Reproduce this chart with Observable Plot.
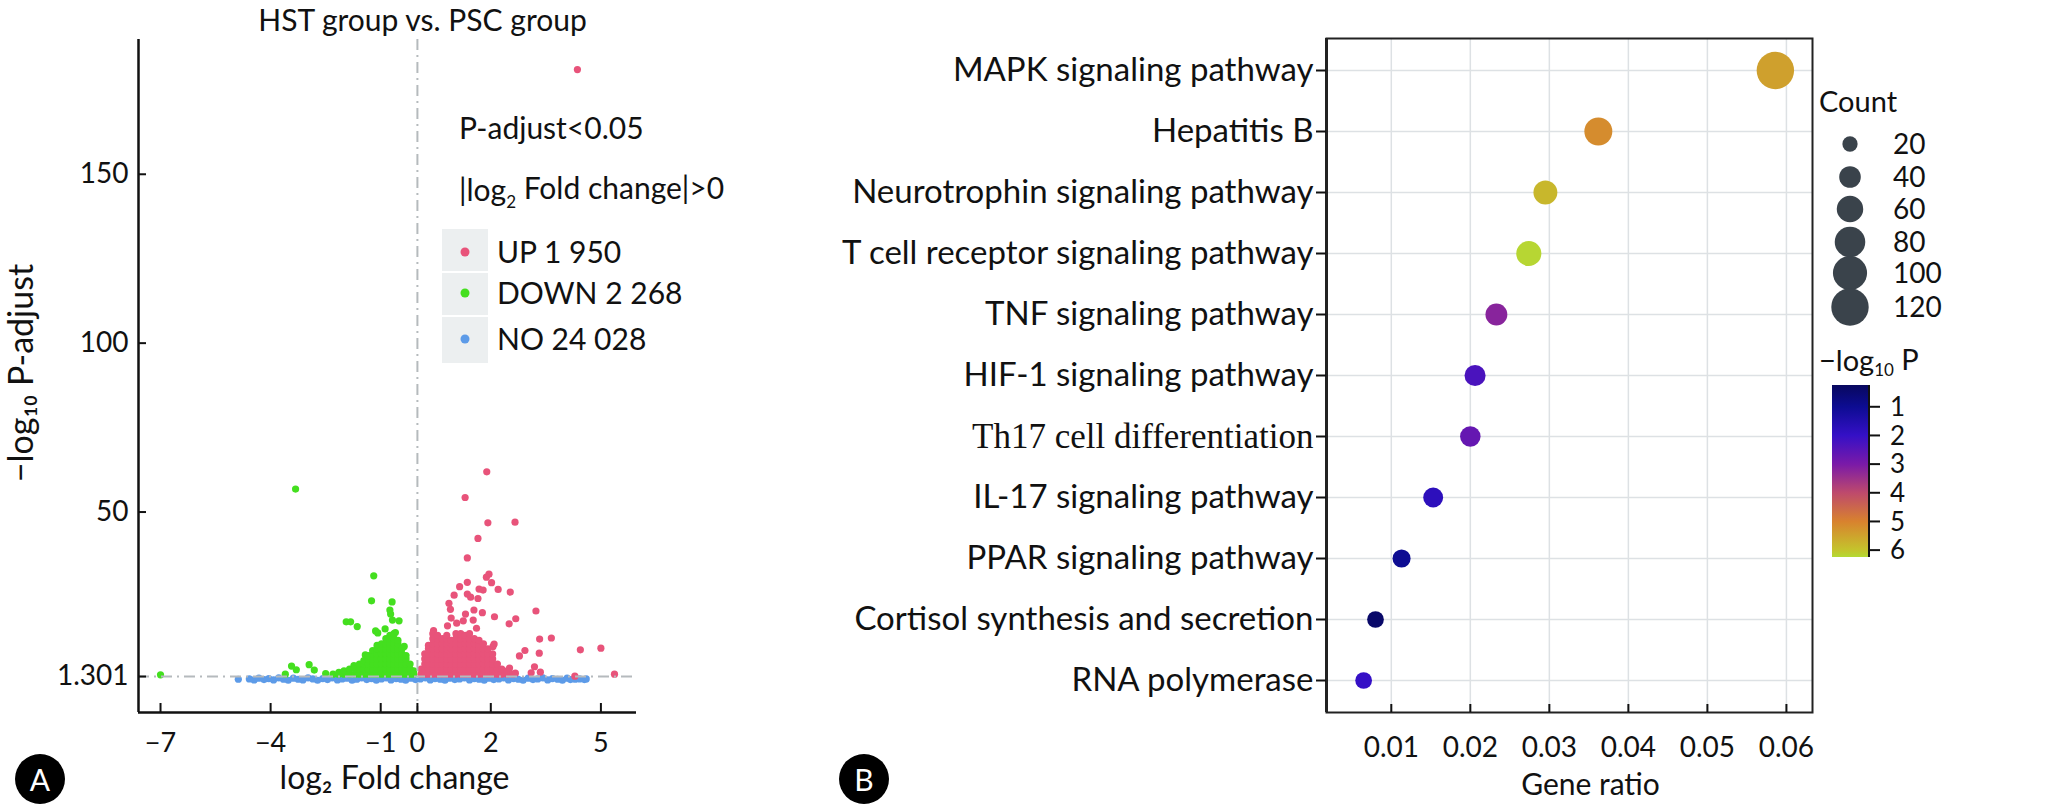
<!DOCTYPE html>
<html><head><meta charset="utf-8">
<script src="https://cdn.jsdelivr.net/npm/d3@7"></script>
<script src="https://cdn.jsdelivr.net/npm/@observablehq/plot@0.6"></script>
<style>
html,body{margin:0;padding:0;background:#fff;}
#wrap{position:relative;width:2048px;height:809px;overflow:hidden;font-family:Lato,sans-serif;}
#wrap svg{position:absolute;top:0;overflow:visible;}
.badge{position:absolute;width:50px;height:50px;border-radius:50%;background:#000;color:#fff;font:30px Lato,sans-serif;display:flex;align-items:center;justify-content:center;}
</style></head><body><div id="wrap"></div>
<script>
// ---------- Panel A data (volcano) ----------
const volcanoTitle = "HST group vs. PSC group";
const thresholdText = ["P-adjust<0.05", "|log₂ Fold change|>0"];
const groupLabels = ["UP 1 950", "DOWN 2 268", "NO 24 028"];
const xTicksA = [-7, -4, -1, 0, 2, 5];
const yTicksA = [1.301, 50, 100, 150];
const pCut = 1.301;
const fcCut = 0;

const upPoints = [
  [4.36,181],[1.89,61.9],[1.30,54.3],[1.92,46.8],[2.66,47.0],[1.65,42.2],[1.36,36.4],[1.95,31.6],[1.88,30.7],
  [2.02,29.1],[1.15,27.9],[1.36,29.2],[2.2,27.1],[2.53,26.3],[1.68,27.2],[1.79,26.9],[1.0,25.4],[1.36,25.7],
  [1.45,24.8],[1.65,24.4],[0.86,23.0],[0.9,21.2],[1.54,21.0],[1.77,20.2],[1.31,19.8],[2.1,19.0],[3.23,20.7],
  [0.92,18.6],[1.07,17.1],[1.25,17.8],[2.68,18.4],[2.5,16.9],[0.82,16.3],[1.52,18.0],[1.61,15.6],[0.44,14.9],
  [3.33,12.4],[3.65,12.7],[2.09,10.9],[2.06,10.2],[4.44,9.2],[5.0,9.7],[2.93,9.0],[2.78,7.4],[3.32,8.2],
  [3.19,4.2],[3.35,2.6],[3.1,2.4],[2.51,3.8],[2.67,2.3],[5.37,2.0],[4.29,1.4],
  [0.1,2],[0.1,3.5],
  [0.2,2],[0.2,3.5],[0.2,5],[0.2,6.5],[0.2,8],
  [0.3,2],[0.3,3.5],[0.3,5],[0.3,6.5],[0.3,8],[0.3,9.5],[0.3,10.5],
  [0.42,2],[0.42,3.5],[0.42,5],[0.42,6.5],[0.42,8],[0.42,9.5],[0.42,11],[0.42,12.5],[0.42,14],
  [0.55,2],[0.55,3.5],[0.55,5],[0.55,6.5],[0.55,8],[0.55,9.5],[0.55,11],[0.55,12.5],[0.55,13.5],
  [0.68,2],[0.68,3.5],[0.68,5],[0.68,6.5],[0.68,8],[0.68,9.5],[0.68,11],[0.68,12.5],
  [0.8,2],[0.8,3.5],[0.8,5],[0.8,6.5],[0.8,8],[0.8,9.5],[0.8,11],[0.8,12.5],[0.8,13.5],
  [0.92,2],[0.92,3.5],[0.92,5],[0.92,6.5],[0.92,8],[0.92,9.5],[0.92,11],[0.92,12],
  [1.05,2],[1.05,3.5],[1.05,5],[1.05,6.5],[1.05,8],[1.05,9.5],[1.05,11],[1.05,12.5],[1.05,14],
  [1.18,2],[1.18,3.5],[1.18,5],[1.18,6.5],[1.18,8],[1.18,9.5],[1.18,11],[1.18,12.5],[1.18,14],
  [1.3,2],[1.3,3.5],[1.3,5],[1.3,6.5],[1.3,8],[1.3,9.5],[1.3,11],[1.3,12.5],[1.3,13.5],
  [1.42,2],[1.42,3.5],[1.42,5],[1.42,6.5],[1.42,8],[1.42,9.5],[1.42,11],[1.42,12.5],[1.42,14],
  [1.55,2],[1.55,3.5],[1.55,5],[1.55,6.5],[1.55,8],[1.55,9.5],[1.55,11],[1.55,12.5],
  [1.68,2],[1.68,3.5],[1.68,5],[1.68,6.5],[1.68,8],[1.68,9.5],[1.68,11],[1.68,12],
  [1.8,2],[1.8,3.5],[1.8,5],[1.8,6.5],[1.8,8],[1.8,9.5],[1.8,11],
  [1.92,2],[1.92,3.5],[1.92,5],[1.92,6.5],[1.92,8],[1.92,9.5],
  [2.05,2],[2.05,3.5],[2.05,5],[2.05,6.5],[2.05,8],
  [2.18,2],[2.18,3.5],[2.18,5],
  [2.3,2],[2.3,3.5],
  [2.45,2],[2.45,3],
  [2.6,2]
];

const downPoints = [
  [-7.0,1.8],[-3.32,56.8],[-1.19,31.1],[-1.25,23.7],[-0.69,23.4],[-0.73,19.8],[-0.75,21],[-1.94,17.5],
  [-1.82,17.5],[-1.64,16.1],[-0.68,18],[-0.5,17.8],[-1.14,14.8],[-0.88,15.4],[-1.08,14.2],[-0.6,14.3],
  [-3.43,4.4],[-3.3,3.3],[-2.95,4.8],[-2.81,3.2],[-2.14,2.5],[-1.87,2.8],[-1.73,4.5],[-1.42,7.7],
  [-1.38,6.5],[-1.19,8.7],[-0.36,10.2],[-0.33,7.2],[-3.6,2.0],[-2.5,2.2],
  [-2.3,2],[-2.15,2],
  [-2.0,2],[-2.0,3],
  [-1.85,2],[-1.85,3.5],
  [-1.7,2],[-1.7,3.5],
  [-1.58,2],[-1.58,3.5],[-1.58,5],
  [-1.46,2],[-1.46,3.5],[-1.46,5],[-1.46,6],
  [-1.34,2],[-1.34,3.5],[-1.34,5],[-1.34,6.5],[-1.34,7.5],
  [-1.22,2],[-1.22,3.5],[-1.22,5],[-1.22,6.5],[-1.22,8],[-1.22,9],
  [-1.1,2],[-1.1,3.5],[-1.1,5],[-1.1,6.5],[-1.1,8],[-1.1,9.5],[-1.1,10.5],
  [-0.98,2],[-0.98,3.5],[-0.98,5],[-0.98,6.5],[-0.98,8],[-0.98,9.5],[-0.98,11],
  [-0.86,2],[-0.86,3.5],[-0.86,5],[-0.86,6.5],[-0.86,8],[-0.86,9.5],[-0.86,11],[-0.86,12.5],
  [-0.75,2],[-0.75,3.5],[-0.75,5],[-0.75,6.5],[-0.75,8],[-0.75,9.5],[-0.75,11],[-0.75,12.5],[-0.75,13.5],
  [-0.64,2],[-0.64,3.5],[-0.64,5],[-0.64,6.5],[-0.64,8],[-0.64,9.5],[-0.64,11],[-0.64,12.5],[-0.64,14],
  [-0.53,2],[-0.53,3.5],[-0.53,5],[-0.53,6.5],[-0.53,8],[-0.53,9.5],[-0.53,11],[-0.53,12],
  [-0.42,2],[-0.42,3.5],[-0.42,5],[-0.42,6.5],[-0.42,8],[-0.42,9.5],
  [-0.31,2],[-0.31,3.5],[-0.31,5],[-0.31,6.5],[-0.31,7.5],
  [-0.2,2],[-0.2,3.5],[-0.2,5],
  [-0.1,2],[-0.1,3]
];

const noPoints = [
  [-4.88,0.5],[-4.58,0.6],[-4.45,0.3],[-4.32,0.8],[-4.18,0.4],[-4.05,0.7],[-3.92,0.3],[-3.78,0.9],[-3.65,0.5],
  [-3.52,0.2],[-3.38,0.8],[-3.25,0.5],[-3.12,0.3],[-2.98,0.9],[-2.85,0.6],[-2.72,0.2],[-2.58,0.7],[-2.45,0.4],
  [-2.32,0.9],[-2.18,0.3],[-2.05,0.6],[-1.92,0.8],[-1.78,0.2],[-1.65,0.5],[-1.52,0.9],[-1.38,0.4],[-1.25,0.7],
  [-1.12,0.2],[-0.98,0.6],[-0.85,0.9],[-0.72,0.3],[-0.58,0.7],[-0.45,0.5],[-0.32,0.2],[-0.18,0.8],[-0.05,0.4],
  [0.08,0.6],[0.22,0.9],[0.35,0.3],[0.48,0.7],[0.62,0.5],[0.75,0.2],[0.88,0.8],[1.02,0.4],[1.15,0.6],
  [1.28,0.9],[1.42,0.3],[1.55,0.7],[1.68,0.5],[1.82,0.2],[1.95,0.8],[2.08,0.4],[2.22,0.6],[2.35,0.9],
  [2.48,0.3],[2.62,0.7],[2.75,0.5],[2.88,0.2],[3.02,0.8],[3.15,0.4],[3.28,0.6],[3.42,0.9],[3.55,0.3],
  [3.68,0.7],[3.82,0.5],[3.95,0.2],[4.08,0.8],[4.17,0.4],[4.3,0.5],[4.42,0.6],[4.55,0.4],[4.6,0.6]
];

// ---------- Panel B data (KEGG bubble) ----------
const pathways = [
  "MAPK signaling pathway","Hepatitis B","Neurotrophin signaling pathway","T cell receptor signaling pathway",
  "TNF signaling pathway","HIF-1 signaling pathway","Th17 cell differentiation","IL-17 signaling pathway",
  "PPAR signaling pathway","Cortisol synthesis and secretion","RNA polymerase"
];
const geneRatio = [0.0586, 0.0362, 0.0295, 0.0274, 0.0233, 0.0206, 0.0200, 0.0153, 0.0113, 0.0080, 0.0065];
const geneCount = [120, 67, 49, 54, 41, 38, 36, 34, 28, 24, 24];
const negLogP   = [5.45, 5.15, 5.8, 6.2, 3.2, 2.3, 2.7, 1.8, 1.0, 0.4, 2.0];
const ratioTicks = [0.01, 0.02, 0.03, 0.04, 0.05, 0.06];
const countLegend = [20, 40, 60, 80, 100, 120];
const logPTicks = [1, 2, 3, 4, 5, 6];

// ---------- styles ----------
const colUp = "#e8537a", colDown = "#44df1f", colNo = "#5d9be8";
const FONT = "Lato, sans-serif";
const wrap = document.getElementById("wrap");
const minus = d => d < 0 ? "\u2212" + Math.abs(d) : String(d);

// ---------- Panel A ----------
const xDomA = [-7.6, 5.97], yDomA = [-9.35, 189.9];
const dash = {stroke: "#b5babd", strokeWidth: 2, strokeDasharray: "11,5,2,5"};
const axisLine = {stroke: "#111", strokeWidth: 2.5};
const plotA = Plot.plot({
  width: 700, height: 809, marginLeft: 138, marginRight: 64, marginTop: 39, marginBottom: 97,
  style: {fontFamily: FONT, color: "#111", background: "transparent", overflow: "visible"},
  x: {domain: xDomA},
  y: {domain: yDomA},
  marks: [
    Plot.dot(noPoints, {x: d => d[0], y: d => d[1], r: 3.6, fill: colNo}),
    Plot.dot(downPoints, {x: d => d[0], y: d => d[1], r: 3.6, fill: colDown}),
    Plot.dot(upPoints, {x: d => d[0], y: d => d[1], r: 3.6, fill: colUp}),
    Plot.ruleY([pCut], dash),
    Plot.ruleX([fcCut], dash),
    Plot.ruleX([xDomA[0]], axisLine),
    Plot.ruleY([yDomA[0]], axisLine),
    Plot.axisX({ticks: xTicksA, tickFormat: minus, tickSize: -9, tickPadding: 29, fontSize: 27, strokeWidth: 2, label: null}),
    Plot.axisY({ticks: yTicksA, tickFormat: d => String(d), tickSize: -8, tickPadding: 18, fontSize: 28, strokeWidth: 2, label: null}),
    Plot.text([volcanoTitle], {frameAnchor: "top", lineAnchor: "middle", textAnchor: "middle", dx: 35, dy: -18, fontSize: 30}),
    Plot.text(["log₂ Fold change"], {frameAnchor: "bottom", lineAnchor: "middle", textAnchor: "middle", dx: 7, dy: 66, fontSize: 32}),
    Plot.text(["\u2212log₁₀ P-adjust"], {frameAnchor: "left", lineAnchor: "middle", textAnchor: "middle", rotate: -90, dx: -116, dy: -3, fontSize: 34})
  ]
});
plotA.style.left = "0px";
wrap.appendChild(plotA);

// legend for panel A
{
  const g = d3.select(plotA).append("g").attr("font-family", FONT).attr("fill", "#111").attr("text-anchor", "start");
  g.append("text").attr("x", 459).attr("y", 128).attr("dy", "0.35em").attr("font-size", 30).text(thresholdText[0]);
  const t = g.append("text").attr("x", 459).attr("y", 190).attr("dy", "0.35em").attr("font-size", 30);
  t.append("tspan").text("|log");
  t.append("tspan").attr("font-size", 17).attr("dy", "0.45em").text("2");
  t.append("tspan").attr("dy", "-0.3em").text(" Fold change|>0");
  g.append("rect").attr("x", 442).attr("y", 229).attr("width", 46).attr("height", 134).attr("fill", "#eceff0");
  [272, 316].forEach(y => g.append("line").attr("x1", 442).attr("x2", 488).attr("y1", y).attr("y2", y).attr("stroke", "#fff").attr("stroke-width", 2));
  const rowsY = [252, 293, 339], cols = [colUp, colDown, colNo];
  groupLabels.forEach((lab, i) => {
    g.append("circle").attr("cx", 465).attr("cy", rowsY[i]).attr("r", 4.5).attr("fill", cols[i]);
    g.append("text").attr("x", 497).attr("y", rowsY[i]).attr("dy", "0.35em").attr("font-size", 30).text(lab);
  });
}

// ---------- Panel B ----------
const th17 = "Th17 cell differentiation";
const pathwayData = pathways.map((p, i) => ({pathway: p, ratio: geneRatio[i], count: geneCount[i], logp: negLogP[i]}));
const colorDomain = [0.24, 1, 2, 3, 4, 5, 6, 6.24];
const colorRange = ["#08085e", "#0d0c92", "#3510c6", "#7a1aa8", "#be4a6c", "#d8822e", "#c4c42c", "#b4da34"];
const xDomB = [0.0018, 0.0633];
const grid = {stroke: "#dde1e4", strokeOpacity: 1, strokeWidth: 1.5};
const plotB = Plot.plot({
  width: 1348, height: 809, marginLeft: 626, marginRight: 236, marginTop: 38, marginBottom: 97,
  style: {fontFamily: FONT, color: "#111", background: "transparent", overflow: "visible"},
  x: {domain: xDomB},
  y: {type: "point", domain: pathways, padding: 0.5},
  r: {type: "sqrt", domain: [0, 120], range: [0, 18.7]},
  color: {type: "linear", domain: colorDomain, range: colorRange},
  marks: [
    Plot.gridX(ratioTicks, grid),
    Plot.gridY(pathways, grid),
    Plot.frame({stroke: "#222", strokeWidth: 2}),
    Plot.ruleX([xDomB[0]], {stroke: "#222", strokeWidth: 3}),
    Plot.dot(pathwayData, {x: "ratio", y: "pathway", r: "count", fill: "logp"}),
    Plot.axisX({ticks: ratioTicks, tickFormat: d => d.toFixed(2), tickSize: -8, tickPadding: 33, fontSize: 28, strokeWidth: 2, label: null}),
    Plot.axisY({ticks: pathways.filter(p => p !== th17), tickSize: 10, tickPadding: 3, fontSize: 33, strokeWidth: 2, label: null}),
    Plot.axisY({ticks: [th17], tickSize: 10, tickPadding: 3, fontSize: 35, fontFamily: "Liberation Serif, serif", strokeWidth: 2, label: null}),
    Plot.text(["Gene ratio"], {frameAnchor: "bottom", lineAnchor: "middle", textAnchor: "middle", dx: 21, dy: 73, fontSize: 30})
  ]
});
plotB.style.left = "700px";
wrap.appendChild(plotB);

// legends for panel B (drawn from the plot's own r and color scales)
{
  const rS = plotB.scale("r"), cS = plotB.scale("color");
  const g = d3.select(plotB).append("g").attr("font-family", FONT).attr("fill", "#111").attr("text-anchor", "start");
  const ox = -700;
  g.append("text").attr("x", 1819 + ox).attr("y", 102).attr("dy", "0.35em").attr("font-size", 29).text("Count");
  const rowY = [144, 177, 209, 242, 273, 307];
  countLegend.forEach((c, i) => {
    g.append("circle").attr("cx", 1850 + ox).attr("cy", rowY[i]).attr("r", rS.apply(c)).attr("fill", "#3a434b");
    g.append("text").attr("x", 1893 + ox).attr("y", rowY[i]).attr("dy", "0.35em").attr("font-size", 28).text(c);
  });
  const tt = g.append("text").attr("x", 1819 + ox).attr("y", 361).attr("dy", "0.35em").attr("font-size", 29);
  tt.append("tspan").text("\u2212log");
  tt.append("tspan").attr("font-size", 17).attr("dy", "0.3em").text("10");
  tt.append("tspan").attr("dy", "-0.2em").text(" P");
  const top = 385, bot = 557, bx = 1832 + ox, bw = 37;
  const yb = d3.scaleLinear().domain([colorDomain[0], colorDomain[colorDomain.length - 1]]).range([top, bot]);
  const defs = d3.select(plotB).append("defs");
  const lg = defs.append("linearGradient").attr("id", "cbar").attr("x1", 0).attr("x2", 0).attr("y1", 0).attr("y2", 1);
  colorDomain.forEach(v => lg.append("stop").attr("offset", (yb(v) - top) / (bot - top)).attr("stop-color", cS.apply(v)));
  g.append("rect").attr("x", bx).attr("y", top).attr("width", bw).attr("height", bot - top).attr("fill", "url(#cbar)");
  g.append("line").attr("x1", bx + bw).attr("x2", bx + bw).attr("y1", top).attr("y2", bot).attr("stroke", "#111").attr("stroke-width", 2);
  logPTicks.forEach(v => {
    g.append("line").attr("x1", bx + bw).attr("x2", bx + bw + 11).attr("y1", yb(v)).attr("y2", yb(v)).attr("stroke", "#111").attr("stroke-width", 2);
    g.append("text").attr("x", 1890 + ox).attr("y", yb(v)).attr("dy", "0.35em").attr("font-size", 26).text(v);
  });
}

// panel badges
[["A", 15], ["B", 839]].forEach(([t, x]) => {
  const d = document.createElement("div");
  d.className = "badge"; d.textContent = t;
  d.style.left = x + "px"; d.style.top = "754px";
  wrap.appendChild(d);
});
</script></body></html>
